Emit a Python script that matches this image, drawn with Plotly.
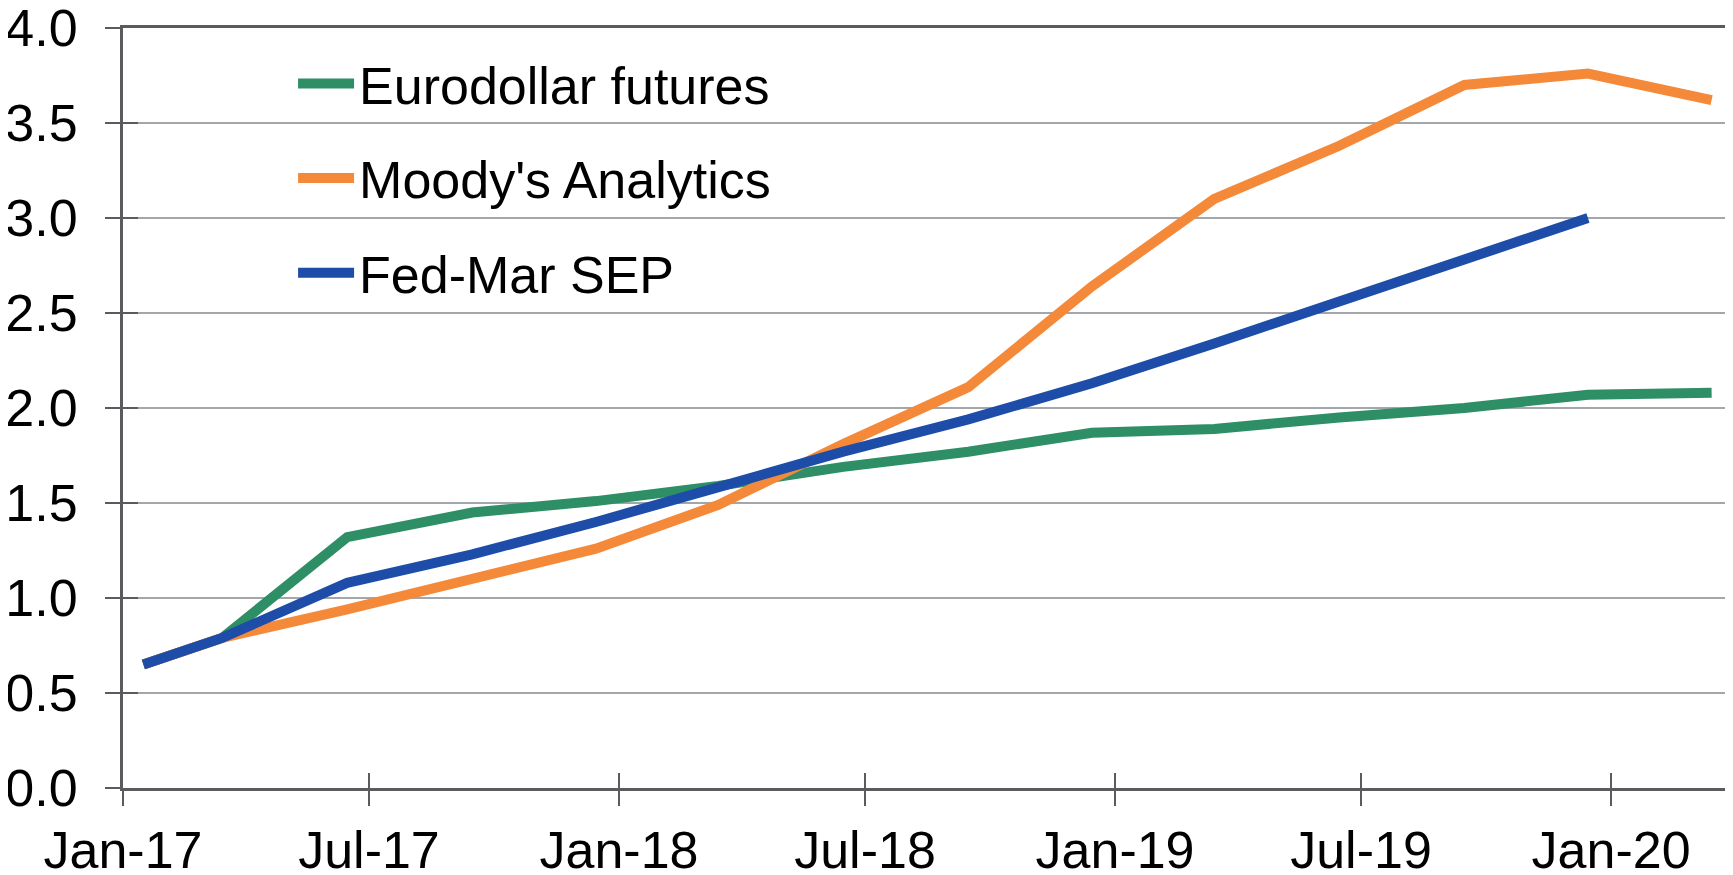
import plotly.graph_objects as go

dates = ["2017-01-16", "2017-03-15", "2017-06-15", "2017-09-15", "2017-12-15",
         "2018-03-15", "2018-06-15", "2018-09-15", "2018-12-15",
         "2019-03-15", "2019-06-15", "2019-09-15", "2019-12-15", "2020-03-15"]
eurodollar = [0.65, 0.79, 1.32, 1.45, 1.51, 1.59, 1.69, 1.77, 1.87, 1.89, 1.95, 2.00, 2.07, 2.08]
moodys = [0.65, 0.79, 0.94, 1.10, 1.26, 1.49, 1.81, 2.11, 2.64, 3.10, 3.38, 3.70, 3.76, 3.62]
fed_sep = [0.65, 0.79, 1.08, 1.23, 1.40, 1.58, 1.77, 1.94, 2.13, 2.34, 2.56, 2.79, 3.00, None]
tick_dates = ["2017-01-01", "2017-07-01", "2018-01-01", "2018-07-01",
              "2019-01-01", "2019-07-01", "2020-01-01"]
tick_labels = ["Jan-17", "Jul-17", "Jan-18", "Jul-18", "Jan-19", "Jul-19", "Jan-20"]
y_ticks = [0.0, 0.5, 1.0, 1.5, 2.0, 2.5, 3.0, 3.5, 4.0]

series = [("Eurodollar futures", eurodollar, "#2E8F66"),
          ("Moody's Analytics", moodys, "#F5893A"),
          ("Fed-Mar SEP", fed_sep, "#1D4DA8")]

FONT = "Liberation Sans, Arial, sans-serif"
AX = "#595b5e"
GRID = "#a3a6aa"
xrange = ["2017-01-01", "2020-03-30"]
yrange = [0, 4]

fig = go.Figure()
for i, (name, vals, col) in enumerate(series):
    fig.add_trace(go.Scatter(x=dates, y=vals, name=name, mode="lines",
                             line=dict(color=col, width=10), legendgroup=f"g{i}",
                             connectgaps=False))
# invisible trace on overlay axes (used only to draw the inside half of the ticks)
fig.add_trace(go.Scatter(x=[dates[0]], y=[0], xaxis="x2", yaxis="y2", mode="markers",
                         marker=dict(opacity=0), showlegend=False, hoverinfo="skip"))

fig.update_layout(
    width=1725, height=867,
    margin=dict(l=115, r=1, t=20, b=87, autoexpand=False),
    paper_bgcolor="white", plot_bgcolor="white",
    font=dict(family=FONT, size=52, color="black"),
    showlegend=True,
    legend=dict(x=0.1057, y=0.980, xanchor="left", yanchor="top",
                bgcolor="rgba(0,0,0,0)", font=dict(size=52),
                tracegroupgap=24, itemwidth=56),
    xaxis=dict(type="date", range=xrange, tickvals=tick_dates, ticktext=tick_labels,
               showgrid=False, showline=True, linecolor=AX, linewidth=3, mirror=True,
               ticks="outside", ticklen=15, tickwidth=2, tickcolor=AX,
               tickfont=dict(size=52), zeroline=False, automargin=False,
               ticklabeloverflow="allow"),
    yaxis=dict(range=yrange, tickvals=y_ticks, tickformat=".1f",
               showgrid=True, gridcolor=GRID, gridwidth=2,
               showline=True, linecolor=AX, linewidth=3, mirror=True,
               ticks="outside", ticklen=15, tickwidth=2, tickcolor=AX,
               tickfont=dict(size=52), zeroline=False, automargin=False,
               ticklabeloverflow="allow", ticklabelstandoff=17),
    xaxis2=dict(type="date", range=xrange, tickvals=tick_dates, overlaying="x",
                showticklabels=False, ticks="inside", ticklen=15, tickwidth=2,
                tickcolor=AX, showgrid=False, showline=False, side="bottom",
                anchor="y", automargin=False, zeroline=False),
    yaxis2=dict(range=yrange, tickvals=y_ticks, overlaying="y", showticklabels=False,
                ticks="inside", ticklen=15, tickwidth=2, tickcolor=AX,
                showgrid=False, showline=False, side="left", anchor="x",
                zeroline=False, automargin=False),
)

fig.write_html("out.html")
